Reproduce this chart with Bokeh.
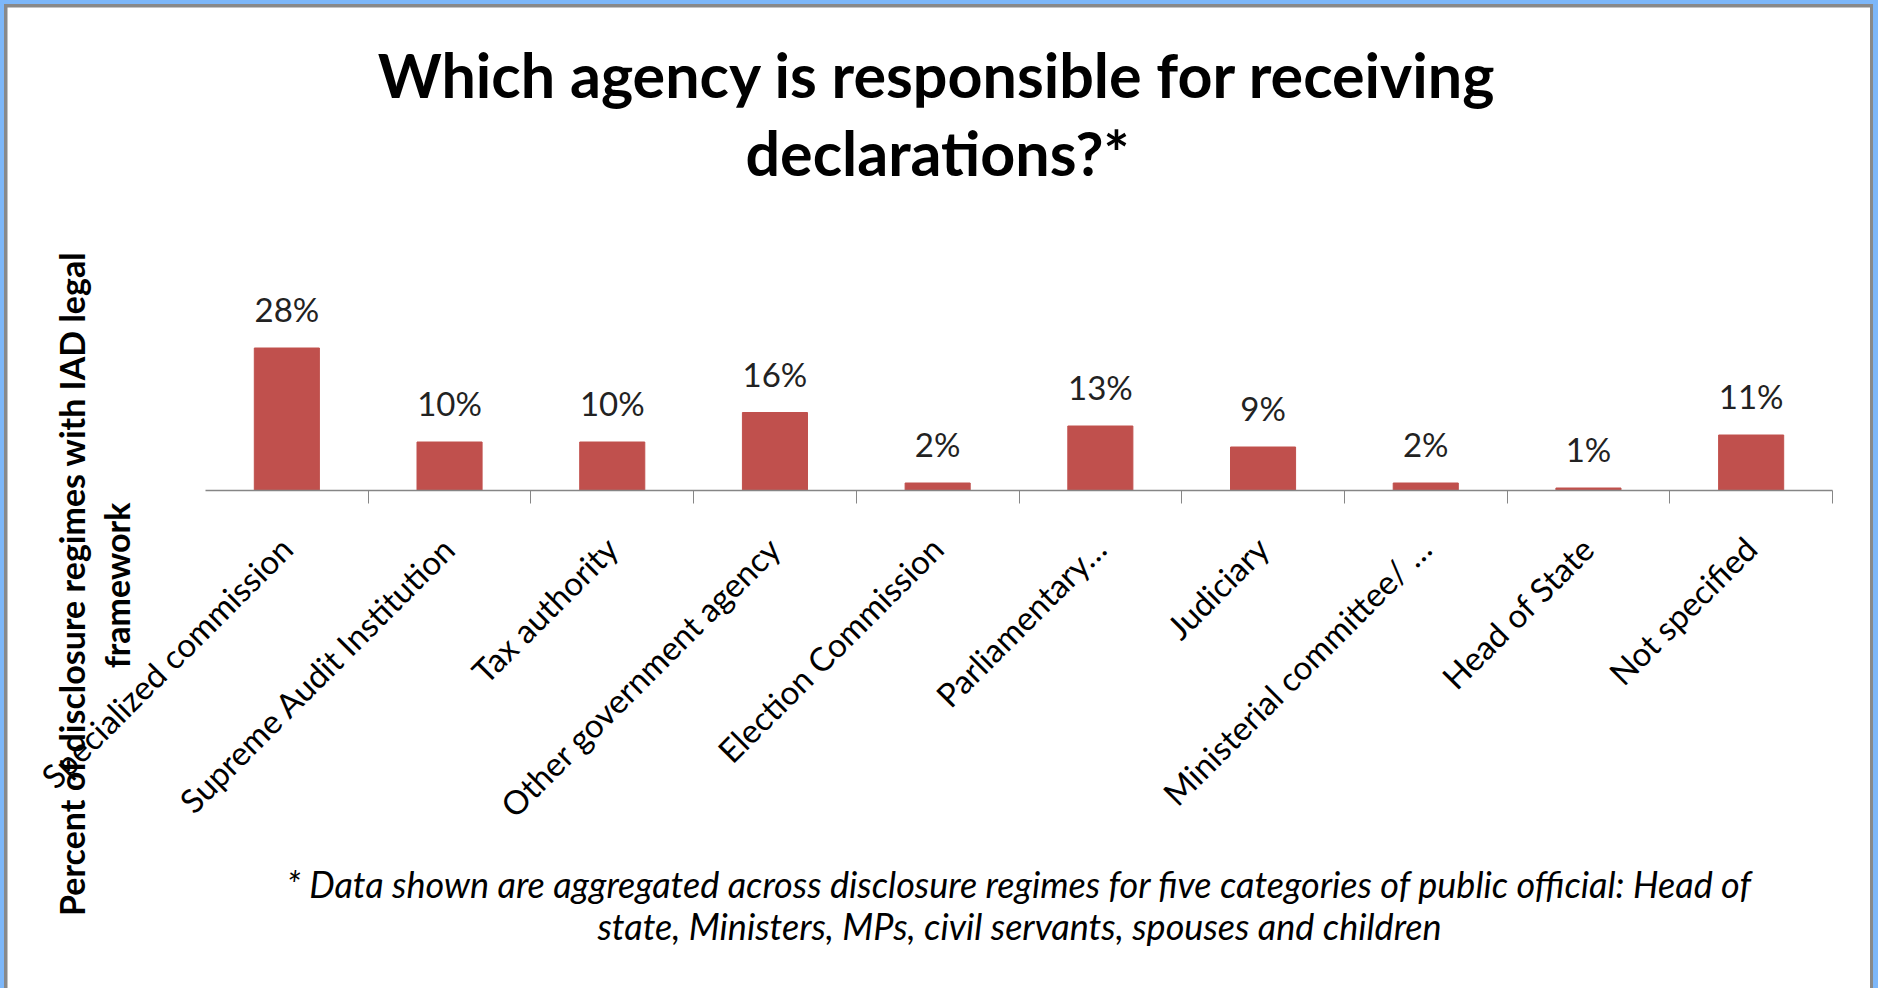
import math
from bokeh.plotting import figure
from bokeh.models import Range1d, FixedTicker, CustomJSTickFormatter, Label, ColumnDataSource
from bokeh.layouts import column
from bokeh.core.properties import value
from bokeh.embed import file_html
from bokeh.resources import INLINE

# ---- data ----
categories = ["Specialized commission", "Supreme Audit Institution", "Tax authority",
              "Other government agency", "Election Commission", "Parliamentary…",
              "Judiciary", "Ministerial committee/ …", "Head of State", "Not specified"]
shares = [28.5, 9.7, 9.7, 15.6, 1.5, 12.9, 8.7, 1.5, 0.5, 11.1]
share_labels = ["28%", "10%", "10%", "16%", "2%", "13%", "9%", "2%", "1%", "11%"]
title_lines = ["Which agency is responsible for receiving", "declarations?*"]
ytitle_lines = ["Percent of disclosure regimes with IAD legal", "framework"]
note_lines = ["* Data shown are aggregated across disclosure regimes for five  categories of public official: Head of",
              "state, Ministers, MPs, civil servants, spouses and children"]

FONT = "Lato"
n = len(categories)
centers = [i + 0.5 for i in range(n)]

# ---- layout geometry (page pixels) ----
FIG_X0, FIG_Y0 = 7, 7
FIG_W, FIG_H = 1863, 981
AX_LEFT, AX_RIGHT, AX_Y = 205, 1832, 490
PX_PER_CAT = (AX_RIGHT - AX_LEFT) / n
PX_PER_PCT = 5.0
LABEL_SHIFT = 0.005  # tiny leftward nudge of rotated tick labels


def dx(page_x):
    return (page_x - AX_LEFT) / PX_PER_CAT


def dy(page_y):
    return (AX_Y - page_y) / PX_PER_PCT


src = ColumnDataSource(dict(x=centers, top=shares, lab=share_labels))

p = figure(width=FIG_W, height=FIG_H, output_backend="svg", toolbar_location=None,
           x_range=Range1d(dx(FIG_X0), dx(FIG_X0 + FIG_W)),
           y_range=Range1d(dy(FIG_Y0 + FIG_H), dy(FIG_Y0)),
           min_border=0, min_border_left=0, min_border_right=0,
           min_border_top=0, min_border_bottom=0)
p.background_fill_color = "white"
p.border_fill_color = "white"
p.outline_line_color = None
p.grid.visible = False
p.yaxis.visible = False

p.vbar(x="x", top="top", width=0.4, bottom=0, source=src,
       fill_color="#c0504d", line_color="#c0504d")
p.text(x="x", y="top", text="lab", source=src, y_offset=-39,
       text_align="center", text_baseline="alphabetic",
       text_font=value(FONT), text_font_size="33px", text_color="#222222")

ax = p.xaxis[0]
ax.fixed_location = 0
ax.bounds = (0, n)
ax.ticker = FixedTicker(ticks=[c - LABEL_SHIFT for c in centers],
                        minor_ticks=list(range(1, n + 1)))
ax.formatter = CustomJSTickFormatter(args=dict(labels=categories),
                                     code="return labels[Math.floor(tick)];")
ax.major_label_orientation = math.pi / 4
ax.major_label_text_font = FONT
ax.major_label_text_font_size = "33px"
ax.major_label_text_color = "black"
ax.major_label_standoff = 39
ax.major_tick_out = 0
ax.major_tick_in = 0
ax.minor_tick_out = 13
ax.minor_tick_in = 0
ax.minor_tick_line_color = "#868686"
ax.axis_line_color = "#868686"
ax.axis_line_width = 1.3

# title
for txt, (px_, py_) in zip(title_lines, [(937, 74), (937, 152)]):
    p.add_layout(Label(x=dx(px_), y=dy(py_), text=txt,
                       text_align="center", text_baseline="alphabetic",
                       text_font=FONT, text_font_style="bold", text_font_size="61px",
                       text_color="black"))
# y title
for txt, (px_, py_) in zip(ytitle_lines, [(71, 583), (116, 585)]):
    p.add_layout(Label(x=dx(px_), y=dy(py_), text=txt,
                       angle=math.pi / 2, text_align="center", text_baseline="middle",
                       text_font=FONT, text_font_style="bold", text_font_size="34px",
                       text_color="black"))
# footnote
for txt, (px_, py_) in zip(note_lines, [(1023, 883), (1019, 925)]):
    p.add_layout(Label(x=dx(px_), y=dy(py_), text=txt,
                       text_align="center", text_baseline="alphabetic",
                       text_font=FONT, text_font_style="italic", text_font_size="36px",
                       text_color="black"))

inner = column(p, styles={"background-color": "#898989", "padding": "3px 3px 0px 3px"})
outer = column(inner, styles={"background-color": "#7db7f9", "padding": "4px 5px 0px 4px"})

open("out.html", "w").write(file_html(outer, INLINE))
